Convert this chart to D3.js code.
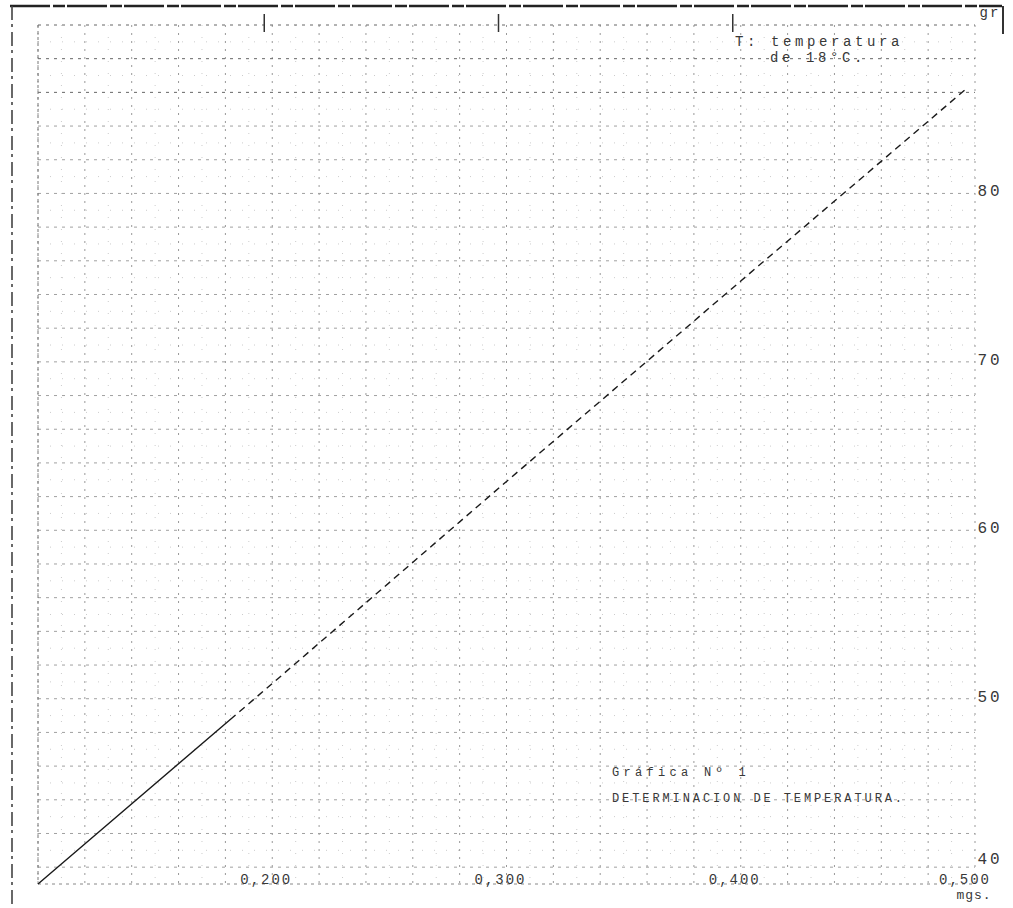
<!DOCTYPE html>
<html>
<head>
<meta charset="utf-8">
<script src="https://cdn.jsdelivr.net/npm/d3@7"></script>
<style>
  body { margin: 0; background: #fff; }
  text { font-family: "Liberation Mono", "DejaVu Sans Mono", monospace; fill: #383838; }
</style>
</head>
<body>
<script>
// readings (x in mgs., y in gr)
var xValues = [0.100, 0.200, 0.300, 0.400, 0.497];
var yValues = [39.0, 50.9, 62.9, 74.8, 86.3];
var xTickLabels = ["0,200", "0,300", "0,400", "0,500"];
var xTickValues = [0.2, 0.3, 0.4, 0.5];
var yTickValues = [80, 70, 60, 50, 40];
var noteLines = ["T: temperatura", "de 18°C."];
var titleLines = ["Gráfica Nº 1", "DETERMINACION DE TEMPERATURA."];

var W = 1013, H = 908;
var svg = d3.select('body').append('svg')
    .attr('width', W)
    .attr('height', H);

var x = d3.scaleLinear().domain([0.1, 0.5]).range([38, 975]);
var y = d3.scaleLinear().domain([39, 90]).range([884, 25]);

// scan border
svg.append('line').attr('x1', 10).attr('x2', 1002).attr('y1', 6).attr('y2', 6)
    .attr('stroke', '#222').attr('stroke-width', 2.5).attr('stroke-dasharray', '40,3,12,2');
svg.append('line').attr('x1', 12).attr('x2', 12).attr('y1', 6).attr('y2', 906)
    .attr('stroke', '#444').attr('stroke-width', 1.6).attr('stroke-dasharray', '14,4,3,5');
svg.append('line').attr('x1', 1003).attr('x2', 1003).attr('y1', 6).attr('y2', 34)
    .attr('stroke', '#333').attr('stroke-width', 2);

var grid = svg.append('g');

// minor graph paper lines
var minorX = d3.range(0.11, 0.5, 0.02);
var minorY = d3.range(41, 90, 2);
grid.selectAll('.mx').data(minorX).enter().append('line')
    .attr('x1', function (d) { return x(d); }).attr('x2', function (d) { return x(d); })
    .attr('y1', y(90)).attr('y2', y(39))
    .attr('stroke', '#ccc').attr('stroke-width', 1).attr('stroke-dasharray', '1,11');
grid.selectAll('.my').data(minorY).enter().append('line')
    .attr('x1', x(0.1)).attr('x2', x(0.5))
    .attr('y1', function (d) { return y(d); }).attr('y2', function (d) { return y(d); })
    .attr('stroke', '#ccc').attr('stroke-width', 1).attr('stroke-dasharray', '1,11');

// major graph paper lines
var majorX = d3.range(0, 21).map(function (i) { return 0.1 + i * 0.02; });
var majorY = d3.range(40, 91, 2);
grid.selectAll('.gx').data(majorX).enter().append('line')
    .attr('x1', function (d) { return x(d); }).attr('x2', function (d) { return x(d); })
    .attr('y1', y(90)).attr('y2', y(39))
    .attr('stroke', '#999').attr('stroke-width', 1).attr('stroke-dasharray', '2,6');
grid.selectAll('.gy').data(majorY).enter().append('line')
    .attr('x1', x(0.1)).attr('x2', x(0.5))
    .attr('y1', function (d) { return y(d); }).attr('y2', function (d) { return y(d); })
    .attr('stroke', function (d) { return d >= 86 ? '#666' : '#a0a0a0'; })
    .attr('stroke-width', 1).attr('stroke-dasharray', '3,5');

// frame edges of the plot
grid.append('line').attr('x1', x(0.1)).attr('x2', x(0.5)).attr('y1', y(39)).attr('y2', y(39))
    .attr('stroke', '#888').attr('stroke-dasharray', '3,4');
grid.append('line').attr('x1', x(0.1)).attr('x2', x(0.1)).attr('y1', y(90)).attr('y2', y(39))
    .attr('stroke', '#777').attr('stroke-dasharray', '3,3');

// small ticks at the top edge
svg.selectAll('.tt').data([0.2, 0.3, 0.4]).enter().append('line')
    .attr('x1', function (d) { return x(d) - 8; }).attr('x2', function (d) { return x(d) - 8; })
    .attr('y1', 14).attr('y2', 32)
    .attr('stroke', '#333').attr('stroke-width', 1.5);

// the measured line: solid at the start, dashed further up
var pts = xValues.map(function (v, i) { return { x: v, y: yValues[i] }; });
var line = d3.line().x(function (d) { return x(d.x); }).y(function (d) { return y(d.y); });
var path = svg.append('path').attr('d', line(pts))
    .attr('stroke', '#1a1a1a').attr('stroke-width', 1.4).attr('fill', 'none');
var len = path.node().getTotalLength();
var dash = [260];
for (var s = 260; s < len; s += 12) { dash.push(5, 7); }
path.attr('stroke-dasharray', dash.join(','));

// x tick labels
svg.selectAll('.xl').data(xTickValues).enter().append('text')
    .attr('x', function (d, i) { return x(d) - (i == 3 ? 10 : 6); })
    .attr('y', 884)
    .attr('text-anchor', 'middle')
    .attr('font-size', 14).attr('letter-spacing', 2)
    .text(function (d, i) { return xTickLabels[i]; });
svg.append('text').attr('x', 974).attr('y', 899).attr('text-anchor', 'middle')
    .attr('font-size', 13).attr('letter-spacing', 1).text('mgs.');

// y tick labels on the right
svg.selectAll('.yl').data(yTickValues).enter().append('text')
    .attr('x', 990)
    .attr('y', function (d) { return y(d) + (d == 40 ? -3 : 3); })
    .attr('text-anchor', 'middle')
    .attr('font-size', 16).attr('letter-spacing', 3)
    .text(function (d) { return d; });
svg.append('text').attr('x', 990).attr('y', 17).attr('text-anchor', 'middle')
    .attr('font-size', 14).attr('letter-spacing', 2).text('gr');

// notes
svg.selectAll('.nt').data(noteLines).enter().append('text')
    .attr('x', function (d, i) { return i == 0 ? 735 : 770; })
    .attr('y', function (d, i) { return 46 + i * 16; })
    .attr('font-size', 14).attr('letter-spacing', 3.6)
    .text(function (d) { return d; });
svg.selectAll('.tl').data(titleLines).enter().append('text')
    .attr('x', 612)
    .attr('y', function (d, i) { return 776 + i * 26; })
    .attr('font-size', 12)
    .attr('letter-spacing', function (d, i) { return i == 0 ? 4.3 : 2.9; })
    .text(function (d) { return d; });
</script>
</body>
</html>
